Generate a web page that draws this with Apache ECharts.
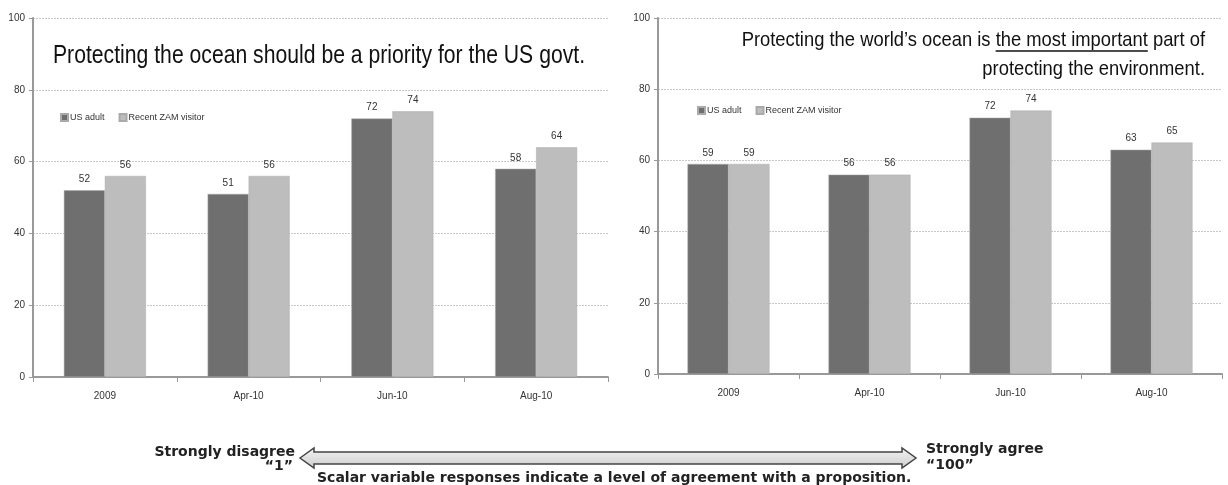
<!DOCTYPE html>
<html lang="en">
<head>
    <meta charset="UTF-8">
    <title>Ocean priority survey</title>
    <script src="https://cdn.jsdelivr.net/npm/echarts@6/dist/echarts.min.js"></script>
    <style>
      *{margin:0;padding:0}
      html,body{width:100%;height:100%;background:#fff}
      #main{width:1228px;height:485px}
    </style>
</head>
<body>
<div id="main"></div>
<script>
    var chart = echarts.init(document.getElementById('main'));

    // data
    var categories = ['2009', 'Apr-10', 'Jun-10', 'Aug-10'];
    var yTicks = [0, 20, 40, 60, 80, 100];
    var priorityUS = [52, 51, 72, 58];
    var priorityZAM = [56, 56, 74, 64];
    var importantUS = [59, 56, 72, 63];
    var importantZAM = [59, 56, 74, 65];

    var dark = '#6f6f6f', light = '#bdbdbd';
    var txt = '#333';
    var sans = '"Liberation Sans", Arial';

    // measure text so the underline sits under the right words
    var ctx = document.createElement('canvas').getContext('2d');
    function textW(s, font) { ctx.font = font; return ctx.measureText(s).width; }

    var leftScale = 0.847;
    var rightScale = 0.875;
    var rFont = '21px ' + sans;
    var ulEnd = 1205 - rightScale * textW(' part of', rFont);
    var ulStart = ulEnd - rightScale * textW('the most important', rFont);

    function xAx(idx) {
        return {
            type: 'category', gridIndex: idx, data: categories,
            axisLine: {lineStyle: {color: '#999', width: 2}},
            axisTick: {show: true, alignWithLabel: false, length: 5, lineStyle: {color: '#999'}},
            axisLabel: {color: txt, fontSize: 10, fontFamily: sans, margin: 14}
        };
    }
    function yAx(idx) {
        return {
            type: 'value', gridIndex: idx, min: yTicks[0], max: yTicks[yTicks.length - 1], interval: 20,
            axisLine: {show: true, lineStyle: {color: '#999', width: 2}},
            axisTick: {show: true, length: 4, lineStyle: {color: '#999'}},
            axisLabel: {color: txt, fontSize: 10, fontFamily: sans, margin: 8},
            splitLine: {lineStyle: {color: '#c8c8c8', type: [2, 1]}}
        };
    }
    function bars(name, data, color, idx) {
        return {
            name: name, type: 'bar', data: data, xAxisIndex: idx, yAxisIndex: idx,
            barWidth: 41, barGap: '0%',
            itemStyle: {color: color, borderColor: '#aaa', borderWidth: 0.5},
            label: {show: true, position: 'top', color: txt, fontSize: 10, fontFamily: sans, distance: 6}
        };
    }
    var legendBase = {
        orient: 'horizontal', itemWidth: 7, itemHeight: 7, itemGap: 14,
        icon: 'rect', textStyle: {color: txt, fontSize: 9, fontFamily: sans, padding: [0, 0, 0, -3]},
        data: ['US adult', 'Recent ZAM visitor'], selectedMode: false
    };

    var bold = 'bold 14px "DejaVu Sans"';

    var option = {
        animation: false,
        backgroundColor: '#fff',
        grid: [
            {left: 33, right: 620, top: 18, bottom: 108},
            {left: 658, right: 6, top: 18, bottom: 111}
        ],
        xAxis: [xAx(0), xAx(1)],
        yAxis: [yAx(0), yAx(1)],
        legend: [
            Object.assign({left: 55, top: 108}, legendBase),
            Object.assign({left: 692, top: 101}, legendBase)
        ],
        series: [
            bars('US adult', priorityUS, dark, 0),
            bars('Recent ZAM visitor', priorityZAM, light, 0),
            bars('US adult', importantUS, dark, 1),
            bars('Recent ZAM visitor', importantZAM, light, 1)
        ],
        graphic: [
            {type: 'text', x: 53, y: 56, scaleX: leftScale, style: {
                text: 'Protecting the ocean should be a priority for the US govt.',
                fill: '#111', font: '25px ' + sans, verticalAlign: 'middle'}},
            {type: 'text', x: 1205, y: 40, scaleX: rightScale, style: {
                text: 'Protecting the world\u2019s ocean is the most important part of',
                fill: '#111', font: rFont, align: 'right', verticalAlign: 'middle'}},
            {type: 'text', x: 1205, y: 69, scaleX: rightScale, style: {
                text: 'protecting the environment.',
                fill: '#111', font: rFont, align: 'right', verticalAlign: 'middle'}},
            {type: 'line', shape: {x1: ulStart, y1: 51, x2: ulEnd, y2: 51}, style: {stroke: '#111', lineWidth: 1.5}},
            {type: 'polygon', shape: {points: [[300, 458], [314, 448], [314, 452], [902, 452], [902, 448], [916, 458],
                [902, 468], [902, 464], [314, 464], [314, 468]]},
                style: {stroke: '#444', lineWidth: 1.5,
                    fill: new echarts.graphic.LinearGradient(0, 0, 0, 1, [
                        {offset: 0, color: '#f4f4f4'}, {offset: 1, color: '#cdcdcd'}])}},
            {type: 'text', x: 295, y: 452, style: {text: 'Strongly disagree', fill: '#222', font: bold, align: 'right', verticalAlign: 'middle'}},
            {type: 'text', x: 293, y: 466, style: {text: '\u201c1\u201d', fill: '#222', font: bold, align: 'right', verticalAlign: 'middle'}},
            {type: 'text', x: 926, y: 449, style: {text: 'Strongly agree', fill: '#222', font: bold, verticalAlign: 'middle'}},
            {type: 'text', x: 926, y: 465, style: {text: '\u201c100\u201d', fill: '#222', font: bold, verticalAlign: 'middle'}},
            {type: 'text', x: 317, y: 478, style: {
                text: 'Scalar variable responses indicate a level of agreement with a proposition.',
                fill: '#222', font: bold, verticalAlign: 'middle'}}
        ]
    };
    chart.setOption(option);
</script>
</body>
</html>
